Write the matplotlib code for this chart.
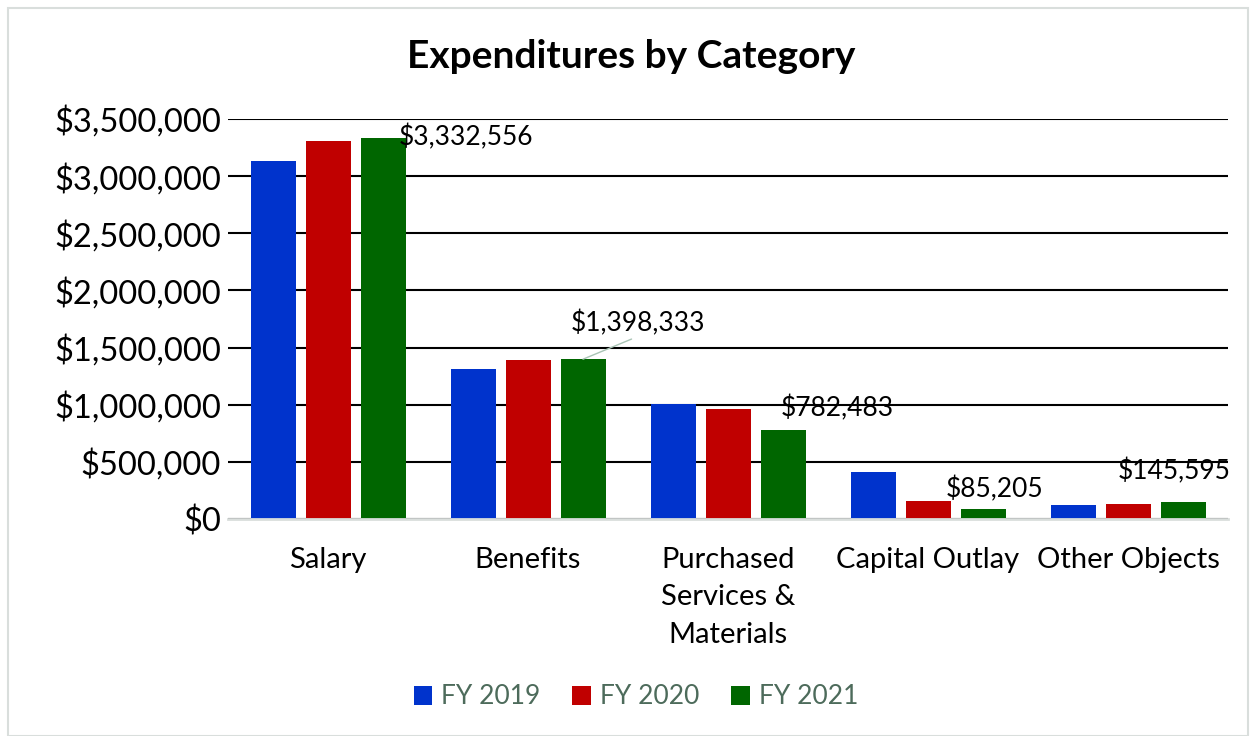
import matplotlib
matplotlib.use('Agg')
import matplotlib.pyplot as plt
from matplotlib.patches import Rectangle, Patch
import numpy as np

categories = ['Salary', 'Benefits', 'Purchased\nServices &\nMaterials', 'Capital Outlay', 'Other Objects']
years = ['FY 2019', 'FY 2020', 'FY 2021']
fy2019 = [3132000, 1312000, 1006000, 411000, 122000]
fy2020 = [3308000, 1391000, 962000, 157000, 131000]
fy2021 = [3332556, 1398333, 782483, 85205, 145595]
colors = ['#0033CC', '#C00000', '#006600']
# label offsets in pixels for FY 2021 value labels
label_offsets = [(16, 1), (-12, 36), (-2, 21), (-37, 20), (-65, 31)]

plt.rcParams['font.family'] = ['Lato', 'DejaVu Sans']

fig = plt.figure(figsize=(12.52, 7.36), dpi=100)
fig.patches.append(Rectangle((8 / 1252, 0), 1240 / 1252, 728 / 736, transform=fig.transFigure,
                             fill=False, edgecolor='#D9DEDC', linewidth=1.5))

ax = fig.add_axes([228 / 1252, 217 / 736, 1000 / 1252, 400 / 736])
x = np.arange(len(categories))
w = 0.225
step = 0.275
series = [fy2019, fy2020, fy2021]
for i, vals in enumerate(series):
    ax.bar(x + (i - 1) * step, vals, width=w, color=colors[i], label=years[i], zorder=3)

ax.set_xlim(-0.5, len(categories) - 0.5)
ax.set_ylim(0, 3500000)
ticks = np.arange(0, 3500001, 500000)
ax.set_yticks(ticks)
ax.set_yticklabels(['${:,.0f}'.format(t) for t in ticks], fontsize=23.5)
ax.yaxis.grid(True, color='black', linewidth=1.5, zorder=0)
ax.set_xticks(x)
ax.set_xticklabels(categories, fontsize=21, linespacing=1.55, va='top')
ax.tick_params(axis='both', length=0)
ax.tick_params(axis='x', pad=20)
ax.tick_params(axis='y', pad=5)
for s in ['top', 'right', 'left']:
    ax.spines[s].set_visible(False)
ax.spines['bottom'].set_color('#D9DEDC')
ax.spines['bottom'].set_linewidth(2)
ax.spines['bottom'].set_zorder(4)

for j, v in enumerate(fy2021):
    dx, dy = label_offsets[j]
    arrow = None
    if j == 1:
        arrow = dict(arrowstyle='-', color='#A9C4B5', shrinkA=0, shrinkB=0, relpos=(0.5, 0))
    ax.annotate('${:,.0f}'.format(v), xy=(x[j] + step, v), xytext=(dx, dy),
                textcoords='offset pixels', ha='left', va='center', fontsize=19,
                arrowprops=arrow, zorder=5)

fig.text(631 / 1252, 1 - 57 / 736, 'Expenditures by Category', ha='center', va='center',
         fontsize=28, fontweight='bold')

handles = [Patch(facecolor=c, edgecolor='none') for c in colors]
leg = fig.legend(handles, years, loc='center', bbox_to_anchor=(636 / 1252, 1 - 697 / 736),
                 ncol=3, frameon=False, fontsize=19, handlelength=0.7, handleheight=0.7,
                 handletextpad=0.35, columnspacing=1.2)
for t in leg.get_texts():
    t.set_color('#4D6B5B')

fig.savefig('out.png', dpi=100)
